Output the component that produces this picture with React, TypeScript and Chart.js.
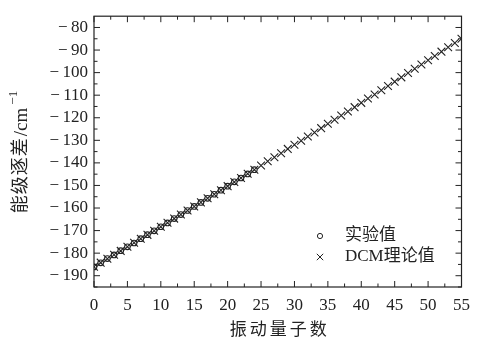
import React, { useEffect, useRef } from 'react';
import { Chart, registerables } from 'chart.js';

Chart.register(...registerables);

const quantumNumbers = [
  0, 1, 2, 3, 4, 5, 6, 7, 8, 9, 10, 11, 12, 13, 14, 15, 16, 17, 18, 19, 20, 21, 22, 23, 24, 25, 26, 27,
  28, 29, 30, 31, 32, 33, 34, 35, 36, 37, 38, 39, 40, 41, 42, 43, 44, 45, 46, 47, 48, 49, 50, 51, 52, 53, 54, 55,
];
const dcmValues = [
  -186.0, -184.2, -182.5, -180.7, -179.0, -177.2, -175.4, -173.6, -171.9, -170.1, -168.3, -166.5, -164.7, -162.9,
  -161.1, -159.3, -157.5, -155.7, -153.9, -152.1, -150.3, -148.5, -146.7, -144.8, -143.0, -141.2, -139.3, -137.5,
  -135.7, -133.8, -132.0, -130.2, -128.3, -126.5, -124.6, -122.7, -120.9, -119.0, -117.2, -115.3, -113.4, -111.5,
  -109.7, -107.8, -105.9, -104.0, -102.1, -100.2, -98.3, -96.4, -94.5, -92.6, -90.7, -88.8, -86.9, -85.0,
];
const expQuantumNumbers = [0, 1, 2, 3, 4, 5, 6, 7, 8, 9, 10, 11, 12, 13, 14, 15, 16, 17, 18, 19, 20, 21, 22, 23, 24];
const expValues = [
  -186.1, -184.3, -182.4, -180.8, -178.9, -177.2, -175.5, -173.6, -171.8, -170.1, -168.3, -166.6, -164.7, -162.9,
  -161.1, -159.3, -157.5, -155.7, -153.9, -152.1, -150.3, -148.4, -146.7, -144.9, -143.0,
];
const xTickValues = [0, 5, 10, 15, 20, 25, 30, 35, 40, 45, 50, 55];
const yTickValues = [-190, -180, -170, -160, -150, -140, -130, -120, -110, -100, -90, -80];
const seriesLabels = ['实验值', 'DCM理论值'];
const xTitle = '振动量子数';
const yTitleCjk = '能级逐差';
const yTitleUnit = '/cm';
const yTitleSup = '\u22121';

const FONT = "'Liberation Serif', 'DejaVu Serif', Tinos, 'Times New Roman', 'Noto Sans CJK SC', serif";
const INK = '#222222';

const fmt = (v: number) => (v < 0 ? '\u2212\u2009' + Math.abs(v) : String(v));

const framePlugin = {
  id: 'frame',
  afterDraw(chart: any) {
    const { ctx, chartArea } = chart;
    const { left, right, top, bottom } = chartArea;
    const xs = chart.scales.x;
    const ys = chart.scales.y;
    ctx.save();
    ctx.strokeStyle = INK;
    ctx.lineWidth = 1.2;
    ctx.strokeRect(left, top, right - left, bottom - top);
    ctx.lineWidth = 1;
    ctx.beginPath();
    for (let v = 0; v <= 55.001; v += 2.5) {
      const px = xs.getPixelForValue(v);
      const len = Math.abs(v % 5) < 0.01 ? 6 : 3.5;
      ctx.moveTo(px, bottom);
      ctx.lineTo(px, bottom - len);
      ctx.moveTo(px, top);
      ctx.lineTo(px, top + len);
    }
    for (let v = -195; v <= -75.001; v += 5) {
      const py = ys.getPixelForValue(v);
      const len = Math.abs(v % 10) < 0.01 ? 6 : 3.5;
      ctx.moveTo(left, py);
      ctx.lineTo(left + len, py);
      ctx.moveTo(right, py);
      ctx.lineTo(right - len, py);
    }
    ctx.stroke();

    ctx.fillStyle = INK;
    // x title
    ctx.font = `17px ${FONT}`;
    ctx.textAlign = 'center';
    ctx.textBaseline = 'middle';
    (ctx as any).letterSpacing = '3px';
    ctx.fillText(xTitle, (left + right) / 2 + 2, bottom + 44);
    (ctx as any).letterSpacing = '0px';

    // y title (rotated, composed of pieces)
    ctx.save();
    ctx.translate(21, 152);
    ctx.rotate(-Math.PI / 2);
    ctx.textAlign = 'left';
    ctx.textBaseline = 'middle';
    ctx.font = `18px ${FONT}`;
    (ctx as any).letterSpacing = '1px';
    const w1 = ctx.measureText(yTitleCjk).width;
    (ctx as any).letterSpacing = '0px';
    ctx.font = `19px ${FONT}`;
    const w2 = ctx.measureText(yTitleUnit).width;
    ctx.font = `13px ${FONT}`;
    const w3 = ctx.measureText(yTitleSup).width;
    const total = w1 + w2 + w3 + 4;
    let cx = -total / 2;
    ctx.font = `18px ${FONT}`;
    (ctx as any).letterSpacing = '1px';
    ctx.fillText(yTitleCjk, cx, 0);
    (ctx as any).letterSpacing = '0px';
    cx += w1 + 1;
    ctx.font = `19px ${FONT}`;
    ctx.fillText(yTitleUnit, cx, 1);
    cx += w2 + 3;
    ctx.font = `13px ${FONT}`;
    ctx.fillText(yTitleSup, cx, -7);
    ctx.restore();

    // legend
    const lx = 320;
    const ly1 = 236;
    const ly2 = 257;
    ctx.lineWidth = 1;
    ctx.beginPath();
    ctx.arc(lx, ly1, 2.6, 0, Math.PI * 2);
    ctx.stroke();
    ctx.beginPath();
    const c = 3.2;
    ctx.moveTo(lx - c, ly2 - c);
    ctx.lineTo(lx + c, ly2 + c);
    ctx.moveTo(lx - c, ly2 + c);
    ctx.lineTo(lx + c, ly2 - c);
    ctx.stroke();
    ctx.textAlign = 'left';
    ctx.font = `17px ${FONT}`;
    ctx.fillText(seriesLabels[0], 345, ly1);
    ctx.fillText(seriesLabels[1], 345, ly2);
    ctx.restore();
  },
};

export default function App() {
  const ref = useRef<HTMLCanvasElement | null>(null);
  useEffect(() => {
    document.body.style.margin = '0';
    const canvas = ref.current;
    if (!canvas) return;
    const chart = new Chart(canvas, {
      type: 'scatter',
      data: {
        datasets: [
          {
            label: seriesLabels[1],
            data: quantumNumbers.map((x, i) => ({ x, y: dcmValues[i] })),
            pointStyle: 'crossRot',
            pointRadius: 5.5,
            pointBorderColor: INK,
            pointBackgroundColor: INK,
            pointBorderWidth: 1.1,
            showLine: false,
          },
          {
            label: seriesLabels[0],
            data: expQuantumNumbers.map((x, i) => ({ x, y: expValues[i] })),
            pointStyle: 'circle',
            pointRadius: 2.8,
            pointBorderColor: INK,
            pointBackgroundColor: 'rgba(255,255,255,0)',
            pointBorderWidth: 1.1,
            showLine: false,
          },
        ],
      },
      options: {
        responsive: false,
        animation: false,
        devicePixelRatio: 1,
        layout: { padding: { left: 0, right: 9, top: 11, bottom: 0 } },
        plugins: { legend: { display: false }, tooltip: { enabled: false } },
        scales: {
          x: {
            type: 'linear',
            min: 0,
            max: 55,
            grid: { display: false, drawTicks: false },
            border: { display: false },
            afterBuildTicks: (s: any) => {
              s.ticks = xTickValues.map((v) => ({ value: v }));
            },
            afterFit: (s: any) => {
              s.height = 53;
            },
            ticks: {
              padding: 8,
              maxRotation: 0,
              color: INK,
              font: { family: FONT, size: 17 },
              callback: (v: any) => fmt(Number(v)),
            },
          },
          y: {
            type: 'linear',
            min: -195,
            max: -75,
            grid: { display: false, drawTicks: false },
            border: { display: false },
            afterBuildTicks: (s: any) => {
              s.ticks = yTickValues.map((v) => ({ value: v }));
            },
            afterFit: (s: any) => {
              s.width = 94;
            },
            ticks: {
              padding: 6,
              color: INK,
              font: { family: FONT, size: 17 },
              callback: (v: any) => fmt(Number(v)),
            },
          },
        },
      },
      plugins: [framePlugin],
    });
    return () => chart.destroy();
  }, []);
  return (
    <div style={{ width: 478, height: 340 }}>
      <canvas ref={ref} width={478} height={340} style={{ display: 'block' }} />
    </div>
  );
}
